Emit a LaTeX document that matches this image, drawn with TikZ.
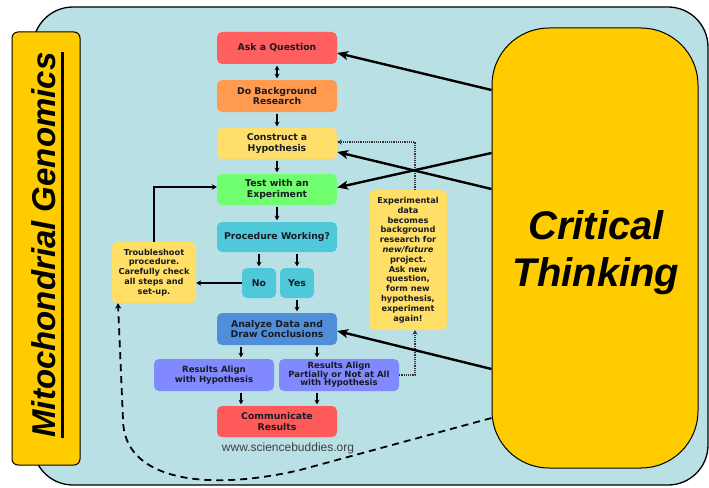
\documentclass[tikz,border=0pt]{standalone}
\usepackage{fontspec}
\setmainfont{DejaVu Sans}
\newfontfamily\arialfont{Liberation Sans}
\usetikzlibrary{arrows.meta,calc}
\definecolor{bgc}{HTML}{B9E0E4}
\definecolor{askc}{HTML}{FF5F5F}
\definecolor{bgrc}{HTML}{FF9A4F}
\definecolor{hypc}{HTML}{FFDF6B}
\definecolor{testc}{HTML}{6FFF6F}
\definecolor{procc}{HTML}{4FC9D9}
\definecolor{anc}{HTML}{4F8FD9}
\definecolor{resc}{HTML}{8189FF}
\definecolor{commc}{HTML}{FF5A5A}
\definecolor{yelc}{HTML}{FFDF66}
\definecolor{goldc}{HTML}{FFCC00}
\definecolor{txtc}{HTML}{1A1A22}
\begin{document}
\begin{tikzpicture}[x=1pt,y=-1pt,
  box/.style={rounded corners=5pt, inner sep=0pt, align=center, text=txtc,
    font=\bfseries\fontsize{9.3}{10.7}\selectfont},
  mainbox/.style={box, minimum width=120pt, minimum height=32pt},
  smallfont/.style={font=\bfseries\fontsize{8.2}{9.8}\selectfont},
  smallarr/.style={-{Stealth[length=4.5pt,width=5pt]}, line width=1.1pt, shorten <=1.5pt, shorten >=1.5pt},
  midarr/.style={-{Stealth[length=5pt,width=5.5pt]}, line width=1.2pt},
  bigarr/.style={-{Stealth[length=11pt,width=9pt,inset=3pt]}, line width=2.4pt},
  dotarr/.style={densely dotted, line width=1.2pt, black!80, -{Stealth[length=4.5pt,width=5pt]}},
  dasharr/.style={dash pattern=on 7pt off 5pt, line width=1.8pt, -{Stealth[length=5.5pt,width=6pt]}},
  bigtext/.style={font=\arialfont\bfseries\itshape\fontsize{40}{47}\selectfont, align=center, inner sep=0pt}
]
\useasboundingbox (0,0) rectangle (709,487);

% background panel
\node[draw, line width=1.3pt, fill=bgc, rounded corners=40pt, minimum width=675pt, minimum height=478pt, inner sep=0pt] (bg) at (370.5,246) {};

% side boxes
\node[draw, line width=1pt, fill=goldc, rounded corners=6pt, minimum width=68pt, minimum height=433pt, inner sep=0pt] (mito) at (46,248.5) {};
\node[rotate=90, font=\arialfont\bfseries\itshape\fontsize{33}{33}\selectfont, inner sep=0pt] (mitot) at (44,245) {Mitochondrial Genomics};
\draw[line width=2.5pt] ([xshift=6pt]mitot.south west) -- ([xshift=6pt]mitot.south east);

\node[draw, line width=1pt, fill=goldc, rounded corners=57pt, minimum width=206pt, minimum height=440pt, inner sep=0pt] (ct) at (595,248) {};
\node[bigtext] (ctt) at (596,253) {Critical\\Thinking};

% flowchart
\node[mainbox, fill=askc] (ask) at (277,48) {Ask a Question};
\node[mainbox, fill=bgrc] (bgr) at (277,96) {Do Background\\Research};
\node[mainbox, fill=hypc, minimum height=31pt] (hyp) at (277,143.5) {Construct a\\Hypothesis};
\node[mainbox, fill=testc, minimum height=31pt] (test) at (277,189.5) {Test with an\\Experiment};
\node[mainbox, fill=procc, minimum height=30pt] (proc) at (277,237) {Procedure Working?};
\node[box, fill=procc, minimum width=34pt, minimum height=30pt] (no) at (259,283) {No};
\node[box, fill=procc, minimum width=34pt, minimum height=30pt] (yes) at (297,283) {Yes};
\node[box, smallfont, fill=yelc, minimum width=84pt, minimum height=61pt] (ts) at (154,272.5)
  {Troubleshoot\\procedure.\\Carefully check\\all steps and\\set-up.};
\node[mainbox, fill=anc] (an) at (277,329) {Analyze Data and\\Draw Conclusions};
\node[box, fill=resc, minimum width=120pt, minimum height=32pt, font=\bfseries\fontsize{8.6}{9.8}\selectfont] (r1) at (214,375)
  {Results Align\\with Hypothesis};
\node[box, fill=resc, minimum width=120pt, minimum height=32pt, font=\bfseries\fontsize{8.5}{8.6}\selectfont] (r2) at (339,375)
  {Results Align\\Partially or Not at All\\with Hypothesis};
\node[mainbox, fill=commc, minimum height=31pt] (comm) at (277,421.5) {Communicate\\Results};
\node[box, smallfont, fill=yelc, minimum width=78pt, minimum height=140pt] (exp) at (408,260)
  {Experimental\\data\\becomes\\background\\research for\\\textit{new/future}\\project.\\Ask new\\question,\\form new\\hypothesis,\\experiment\\again!};
\node[font=\arialfont\fontsize{12}{12}\selectfont, text=black!75, inner sep=0pt] (url) at (288,448) {www.sciencebuddies.org};

% vertical arrows
\draw[smallarr, {Stealth[length=4.5pt,width=5pt]}-{Stealth[length=4.5pt,width=5pt]}] (ask) -- (bgr);
\draw[smallarr] (bgr) -- (hyp);
\draw[smallarr] (hyp) -- (test);
\draw[smallarr] (test) -- (proc);
\draw[smallarr] (no.north |- proc.south) -- (no.north);
\draw[smallarr] (yes.north |- proc.south) -- (yes.north);
\draw[smallarr] (yes.south) -- (yes.south |- an.north);
\draw[smallarr] ([xshift=-36pt]an.south) -- ([xshift=-36pt]an.south |- r1.north);
\draw[smallarr] ([xshift=40pt]an.south) -- ([xshift=40pt]an.south |- r2.north);
\draw[smallarr] ([xshift=-36pt]comm.north |- r1.south) -- ([xshift=-36pt]comm.north);
\draw[smallarr] ([xshift=40pt]comm.north |- r2.south) -- ([xshift=40pt]comm.north);

% troubleshoot loop
\draw[midarr] (no.west) -- (no.west -| ts.east);
\draw[midarr] (ts.north) |- ([yshift=2.5pt]test.west);

% dotted feedback
\draw[dotarr] (r2.east) -| ([xshift=7pt]exp.south);
\draw[dotarr] ([xshift=7pt]exp.north) |- ([yshift=1.5pt]hyp.east);

% critical thinking arrows
\draw[bigarr] ([yshift=158pt]ct.west) -- ([yshift=-5pt]ask.east);
\draw[bigarr] ([yshift=95pt]ct.west) -- ([yshift=2pt]test.east);
\draw[bigarr] ([yshift=59pt]ct.west) -- ([yshift=-8.5pt]hyp.east);
\draw[bigarr] ([yshift=-121pt]ct.west) -- ([yshift=-2pt]an.east);
\draw[dasharr] ([yshift=-170pt]ct.west) -- (300,470) .. controls (205,492) and (124,480) .. (123,420) -- ([xshift=-36pt]ts.south);
\end{tikzpicture}
\end{document}
